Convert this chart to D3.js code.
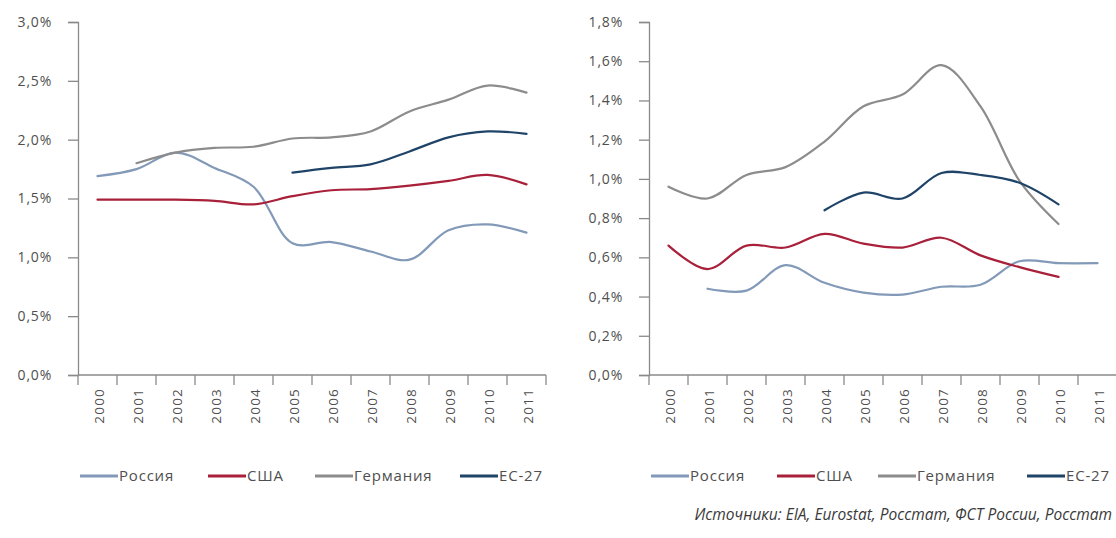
<!DOCTYPE html>
<html>
<head>
<meta charset="utf-8">
<script src="https://cdn.jsdelivr.net/npm/d3@7"></script>
<style>
  html, body { margin: 0; padding: 0; background: #fff; }
  svg { display: block; }
  text { font-family: "Open Sans", "Noto Sans", sans-serif; }
</style>
</head>
<body>
<svg id="chart" width="1116" height="538"></svg>
<script>
// Years along the horizontal axis
const years = ["2000","2001","2002","2003","2004","2005","2006","2007","2008","2009","2010","2011"];

// Series names (legend order)
const seriesNames = ["Россия", "США", "Германия", "ЕС-27"];

// Left panel values, % (null = no data)
const leftRussia  = [1.69, 1.75, 1.89, 1.76, 1.60, 1.12, 1.13, 1.05, 0.98, 1.23, 1.28, 1.21];
const leftUSA     = [1.49, 1.49, 1.49, 1.48, 1.45, 1.52, 1.57, 1.58, 1.61, 1.65, 1.70, 1.62];
const leftGermany = [null, 1.80, 1.89, 1.93, 1.94, 2.01, 2.02, 2.07, 2.24, 2.34, 2.46, 2.40];
const leftEU      = [null, null, null, null, null, 1.72, 1.76, 1.79, 1.90, 2.02, 2.07, 2.05];

// Right panel values, %
const rightRussia  = [null, 0.44, 0.43, 0.56, 0.47, 0.42, 0.41, 0.45, 0.46, 0.58, 0.57, 0.57];
const rightUSA     = [0.66, 0.54, 0.66, 0.65, 0.72, 0.67, 0.65, 0.70, 0.61, 0.55, 0.50, null];
const rightGermany = [0.96, 0.90, 1.02, 1.06, 1.19, 1.37, 1.43, 1.58, 1.37, 0.99, 0.77, null];
const rightEU      = [null, null, null, null, 0.84, 0.93, 0.90, 1.03, 1.02, 0.98, 0.87, null];

// Axis tick values, %
const leftTicks  = [0, 0.5, 1.0, 1.5, 2.0, 2.5, 3.0];
const rightTicks = [0, 0.2, 0.4, 0.6, 0.8, 1.0, 1.2, 1.4, 1.6, 1.8];

const sourceText = "Источники: EIA, Eurostat, Росстат, ФСТ России, Росстат";

const colors = ["#8299b8", "#a8203a", "#8c8c8c", "#1f4468"];
const axisColor = "#8a8a8a";
const labelColor = "#4f4f4f";

const ru = d3.formatLocale({decimal: ",", thousands: " ", grouping: [3], currency: ["", " ₽"]});
const pct = ru.format(".1f");

const svg = d3.select("#chart");

function panel(opts) {
  const g = svg.append("g");
  const x = d3.scaleBand().domain(years).range([opts.x0, opts.x1]).padding(0);
  const y = d3.scaleLinear().domain([0, opts.max]).range([375, 22]);

  // vertical axis with outside ticks
  const ya = g.append("g")
    .attr("transform", `translate(${opts.x0},0)`)
    .call(d3.axisLeft(y).tickValues(opts.ticks).tickSize(10).tickPadding(16)
      .tickFormat(d => pct(d) + "%"));
  ya.select(".domain").attr("stroke", axisColor).attr("stroke-width", 1.3);
  ya.selectAll(".tick line").attr("stroke", axisColor).attr("stroke-width", 1.3);
  ya.selectAll(".tick text").attr("fill", labelColor).style("font-size", "14px")
    .style("letter-spacing", "0.8px");

  // horizontal axis line
  g.append("line")
    .attr("x1", opts.x0).attr("x2", opts.x1)
    .attr("y1", y(0)).attr("y2", y(0))
    .attr("stroke", axisColor).attr("stroke-width", 1.3);

  // category boundary ticks
  const bounds = years.map(d => x(d)).concat([x(years[years.length - 1]) + x.bandwidth()]);
  g.selectAll("line.xtick").data(bounds).join("line")
    .attr("class", "xtick")
    .attr("x1", d => d).attr("x2", d => d)
    .attr("y1", y(0)).attr("y2", y(0) + 10)
    .attr("stroke", axisColor).attr("stroke-width", 1.3);

  // rotated year labels
  g.selectAll("text.year").data(years).join("text")
    .attr("class", "year")
    .attr("transform", d => `translate(${x(d) + x.bandwidth() / 2 + 2},${y(0) + 13}) rotate(-90)`)
    .attr("text-anchor", "end")
    .attr("dy", "0.35em")
    .attr("fill", labelColor)
    .style("font-size", "13.5px")
    .style("letter-spacing", "1.2px")
    .text(d => d);

  // smoothed series lines
  const line = d3.line()
    .defined(d => d.v != null)
    .x(d => x(d.year) + x.bandwidth() / 2)
    .y(d => y(d.v))
    .curve(d3.curveCatmullRom.alpha(0.5));

  opts.series.forEach((vals, i) => {
    const pts = years.map((yr, k) => ({year: yr, v: vals[k]}));
    g.append("path")
      .datum(pts)
      .attr("fill", "none")
      .attr("stroke", colors[i])
      .attr("stroke-width", 2.2)
      .attr("stroke-linejoin", "round")
      .attr("stroke-linecap", "round")
      .attr("d", line);
  });

  // legend
  const lg = g.append("g").attr("transform", "translate(0,476)");
  opts.legendX.forEach((lx, i) => {
    lg.append("line")
      .attr("x1", lx).attr("x2", lx + 38)
      .attr("y1", 0).attr("y2", 0)
      .attr("stroke", colors[i]).attr("stroke-width", 3);
    lg.append("text")
      .attr("x", lx + 39).attr("y", 0).attr("dy", "0.35em")
      .attr("fill", labelColor)
      .style("font-size", "15px")
      .style("letter-spacing", "0.8px")
      .text(seriesNames[i]);
  });
}

panel({
  x0: 78, x1: 546, max: 3.0, ticks: leftTicks,
  series: [leftRussia, leftUSA, leftGermany, leftEU],
  legendX: [80, 208, 315, 460]
});

panel({
  x0: 649, x1: 1117, max: 1.8, ticks: rightTicks,
  series: [rightRussia, rightUSA, rightGermany, rightEU],
  legendX: [651, 777, 878, 1027]
});

// source note, kept inside the right edge
svg.append("text")
  .attr("x", 1112).attr("y", 520)
  .attr("text-anchor", "end")
  .attr("fill", "#3a3a3a")
  .style("font-size", "15.5px")
  .style("font-style", "italic")
  .text(sourceText);
</script>
</body>
</html>
